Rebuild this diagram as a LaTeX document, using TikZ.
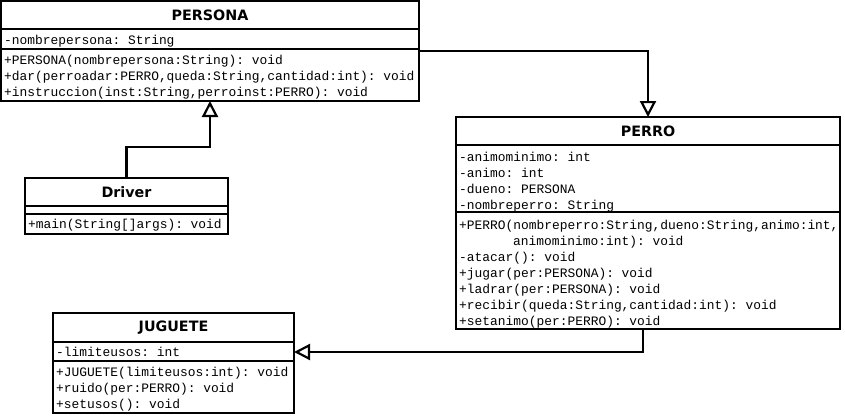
\documentclass[tikz,border=0pt]{standalone}
\usepackage{fontspec}
\usetikzlibrary{arrows.meta,calc}
\newfontfamily\ttlfont{DejaVu Sans}
\setmonofont{Liberation Mono}
\tikzset{
  cls/.style={draw=black, line width=2pt, anchor=north west, inner sep=0pt, outer sep=0pt},
  ttl/.style={font=\ttlfont\bfseries\fontsize{14.3}{16}\selectfont, inner sep=0pt, anchor=center},
  mem/.style={font=\ttfamily\fontsize{12.9}{16}\selectfont, inner sep=0pt, anchor=west, text height=10pt, text depth=2pt},
  divl/.style={line width=1.6pt},
  gen/.style={line width=2.2pt, -{Triangle[open, length=16pt, width=16pt, fill=white]}}
}
\begin{document}
\begin{tikzpicture}[x=1pt,y=-1pt]
\useasboundingbox[fill=white] (0,0) rectangle (845,416);

% PERSONA
\node[cls, minimum width=418pt, minimum height=100pt] (persona) at (1,1) {};
\draw[divl] (1,29) -- (419,29);
\draw[divl] (1,49) -- (419,49);
\node[ttl] (personat) at (210,15) {PERSONA};
\node[mem] (pa1) at (4,40) {-nombrepersona: String};
\node[mem] (pm1) at (4,60) {+PERSONA(nombrepersona:String): void};
\node[mem] (pm2) at (4,76) {+dar(perroadar:PERRO,queda:String,cantidad:int): void};
\node[mem] (pm3) at (4,92) {+instruccion(inst:String,perroinst:PERRO): void};

% Driver
\node[cls, minimum width=203pt, minimum height=56pt] (driver) at (25,178) {};
\draw[divl] (25,206) -- (228,206);
\draw[divl] (25,214) -- (228,214);
\node[ttl] (drivert) at (126.5,192) {Driver};
\node[mem] (dm1) at (28,224.5) {+main(String[]args): void};

% PERRO
\node[cls, minimum width=384pt, minimum height=212pt] (perro) at (456,117) {};
\draw[divl] (456,145) -- (840,145);
\draw[divl] (456,212) -- (840,212);
\node[ttl] (perrot) at (648,131) {PERRO};
\node[mem] (ra1) at (459,157) {-animominimo: int};
\node[mem] (ra2) at (459,173) {-animo: int};
\node[mem] (ra3) at (459,189) {-dueno: PERSONA};
\node[mem] (ra4) at (459,205) {-nombreperro: String};
\node[mem] (rm1) at (459,225) {+PERRO(nombreperro:String,dueno:String,animo:int,};
\node[mem] (rm1b) at (513,241) {animominimo:int): void};
\node[mem] (rm2) at (459,257) {-atacar(): void};
\node[mem] (rm3) at (459,273) {+jugar(per:PERSONA): void};
\node[mem] (rm4) at (459,289) {+ladrar(per:PERSONA): void};
\node[mem] (rm5) at (459,305) {+recibir(queda:String,cantidad:int): void};
\node[mem] (rm6) at (459,321) {+setanimo(per:PERRO): void};

% JUGUETE
\node[cls, minimum width=241pt, minimum height=100pt] (juguete) at (53,313) {};
\draw[divl] (53,342) -- (294,342);
\draw[divl] (53,361) -- (294,361);
\node[ttl] (juguetet) at (173.5,328) {JUGUETE};
\node[mem] (ja1) at (56,352) {-limiteusos: int};
\node[mem] (jm1) at (56,372) {+JUGUETE(limiteusos:int): void};
\node[mem] (jm2) at (56,388) {+ruido(per:PERRO): void};
\node[mem] (jm3) at (56,404) {+setusos(): void};

% connectors
\draw[gen] ($(persona.north east)+(0,50)$) -| (perro.north);
\draw[gen] (driver.north) -- ++(0,-31) -| ($(persona.south west)+(209,0)$);
\draw[gen] ($(perro.south west)+(187,0)$) |- ($(juguete.north east)+(0,39)$);
\end{tikzpicture}
\end{document}
